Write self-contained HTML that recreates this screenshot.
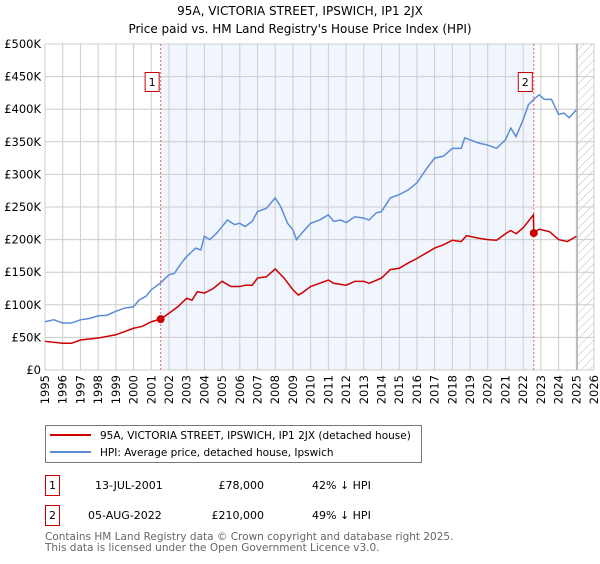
<!DOCTYPE html>
<html><head><meta charset="utf-8"><style>
body{margin:0;width:600px;height:560px;background:#fff;font-family:"DejaVu Sans","Liberation Sans",sans-serif;overflow:hidden}
svg text{font-family:"DejaVu Sans","Liberation Sans",sans-serif}
</style></head><body>
<svg id="chart" width="600" height="560" xmlns="http://www.w3.org/2000/svg">
<defs><pattern id="hatch" width="6" height="6" patternUnits="userSpaceOnUse" patternTransform="rotate(45)"><line x1="0" y1="0" x2="0" y2="6" stroke="#bbb" stroke-width="1"/></pattern></defs>
<text x="300" y="15" text-anchor="middle" font-size="12">95A, VICTORIA STREET, IPSWICH, IP1 2JX</text>
<text x="300" y="33" text-anchor="middle" font-size="12">Price paid vs. HM Land Registry's House Price Index (HPI)</text>
<g id="grid"></g><g id="marks"></g>
<rect x="45.5" y="425.5" width="376" height="37" fill="#fff" stroke="#777"/>
<line x1="50" y1="435" x2="91" y2="435" stroke="#cc0000" stroke-width="2"/>
<text x="100" y="439" font-size="10.5">95A, VICTORIA STREET, IPSWICH, IP1 2JX (detached house)</text>
<line x1="50" y1="452" x2="91" y2="452" stroke="#5b8dd6" stroke-width="2"/>
<text x="100" y="456" font-size="10.5">HPI: Average price, detached house, Ipswich</text>
<g font-size="11">
<rect x="45.5" y="475.5" width="14" height="20" fill="#fff" stroke="#cc0000"/><text x="52.5" y="489" text-anchor="middle">1</text>
<text x="95" y="489">13-JUL-2001</text><text x="264" y="489" text-anchor="end">£78,000</text><text x="312" y="489">42% ↓ HPI</text></g>
<g font-size="11">
<rect x="45.5" y="505.5" width="14" height="20" fill="#fff" stroke="#cc0000"/><text x="52.5" y="519" text-anchor="middle">2</text>
<text x="88" y="519">05-AUG-2022</text><text x="264" y="519" text-anchor="end">£210,000</text><text x="312" y="519">49% ↓ HPI</text></g>
<text x="45" y="540" font-size="10.5" fill="#666">Contains HM Land Registry data © Crown copyright and database right 2025.</text>
<text x="45" y="551" font-size="10.5" fill="#666">This data is licensed under the Open Government Licence v3.0.</text>
</svg>
<script>
const hpiYears=[1995,1995.5,1996,1996.5,1997,1997.5,1998,1998.5,1999,1999.5,2000,2000.3,2000.7,2001,2001.5,2002,2002.3,2002.7,2003,2003.5,2003.8,2004,2004.3,2004.7,2005,2005.3,2005.7,2006,2006.3,2006.7,2007,2007.5,2008,2008.3,2008.7,2009,2009.2,2009.5,2010,2010.5,2011,2011.3,2011.7,2012,2012.5,2013,2013.3,2013.7,2014,2014.5,2015,2015.5,2016,2016.5,2017,2017.5,2018,2018.5,2018.7,2019,2019.5,2020,2020.5,2021,2021.3,2021.6,2022,2022.3,2022.6,2022.9,2023.2,2023.6,2024,2024.3,2024.6,2025];
const hpiValues=[74,77,72,72,77,79,83,84,90,95,97,107,113,123,133,146,148,164,174,187,184,205,200,210,220,230,223,225,220,228,243,248,264,251,225,215,200,210,225,230,238,228,230,226,235,233,230,241,243,264,269,276,287,307,325,328,340,340,356,353,348,345,340,353,371,358,384,407,415,422,415,415,392,394,387,399];
const priceYears=[1995,1996,1996.5,1997,1998,1999,2000,2000.5,2001,2001.53,2002,2002.5,2003,2003.3,2003.6,2004,2004.5,2005,2005.5,2006,2006.3,2006.7,2007,2007.5,2008,2008.5,2009,2009.3,2009.5,2010,2010.5,2011,2011.3,2012,2012.5,2013,2013.3,2014,2014.5,2015,2015.5,2016,2016.5,2017,2017.5,2018,2018.5,2018.8,2019.5,2020,2020.5,2021,2021.3,2021.6,2022,2022.58,2022.6,2022.9,2023.5,2024,2024.5,2025];
const priceValues=[44,41,41,46,49,54,64,67,74,78,87,97,110,107,120,118,125,136,128,128,130,130,141,143,155,141,123,115,118,128,133,138,133,130,136,136,133,141,154,156,164,171,179,187,192,199,197,206,202,200,199,209,214,209,218,238,210,216,212,200,197,205];
const saleYears=[2001.53,2022.6];
const saleValues=[78,210];
const saleLabels=["1","2"];
const yTicks=[0,50,100,150,200,250,300,350,400,450,500];
const yTickLabels=["£0","£50K","£100K","£150K","£200K","£250K","£300K","£350K","£400K","£450K","£500K"];
const xTicks=[1995,1996,1997,1998,1999,2000,2001,2002,2003,2004,2005,2006,2007,2008,2009,2010,2011,2012,2013,2014,2015,2016,2017,2018,2019,2020,2021,2022,2023,2024,2025,2026];
const NS="http://www.w3.org/2000/svg";
const X0=45,X1=594,Y0=370,Y1=44;
const xs=y=>X0+(y-1995)/(2026-1995)*(X1-X0);
const ys=v=>Y0-(v/500)*(Y0-Y1);
function mk(t,a,p){const e=document.createElementNS(NS,t);for(const k in a)e.setAttribute(k,a[k]);p.appendChild(e);return e;}
const grid=document.getElementById('grid'),marks=document.getElementById('marks');
const bg=mk('rect',{x:X0,y:Y1,width:X1-X0,height:Y0-Y1,fill:'#fff'},grid);


const sh=mk('rect',{x:xs(saleYears[0]),y:Y1,width:xs(saleYears[1])-xs(saleYears[0]),height:Y0-Y1,fill:'#eef3fc',opacity:0.8},grid);


const ht=mk('rect',{x:xs(2025.05),y:Y1,width:X1-xs(2025.05),height:Y0-Y1,fill:'url(#hatch)'},grid);


yTicks.forEach((v,i)=>{mk('line',{x1:X0,x2:X1,y1:ys(v),y2:ys(v),stroke:'#ccc'},grid);
const t=mk('text',{x:X0-4,y:ys(v)+4,'text-anchor':'end','font-size':'11.5'},grid);t.textContent=yTickLabels[i];

});
xTicks.forEach(y=>{mk('line',{x1:xs(y),x2:xs(y),y1:Y1,y2:Y0,stroke:'#ccc'},grid);
const t=mk('text',{x:0,y:0,'text-anchor':'end','font-size':'11.5',transform:`translate(${xs(y)+4},${Y0+5}) rotate(-90)`},grid);t.textContent=y;

});
mk('line',{x1:xs(2025.05),x2:xs(2025.05),y1:Y1,y2:Y0,stroke:'#999'},grid);
saleYears.forEach((y,i)=>{mk('line',{x1:xs(y),x2:xs(y),y1:Y1,y2:Y0,stroke:'#e66','stroke-dasharray':'2,2'},marks);});
const hp=mk('polyline',{points:hpiYears.map((y,i)=>xs(y)+','+ys(hpiValues[i])).join(' '),fill:'none',stroke:'#5b8dd6','stroke-width':1.5},marks);


const pp=mk('polyline',{points:priceYears.map((y,i)=>xs(y)+','+ys(priceValues[i])).join(' '),fill:'none',stroke:'#cc0000','stroke-width':1.5},marks);


saleYears.forEach((y,i)=>{const c=mk('circle',{cx:xs(y),cy:ys(saleValues[i]),r:4,fill:'#cc0000'},marks);


const g=mk('g',{},marks);


mk('rect',{x:xs(y)-15.5,y:72.5,width:14,height:19,fill:'#fff',stroke:'#cc0000'},g);
const t=mk('text',{x:xs(y)-8.5,y:86,'text-anchor':'middle','font-size':'11'},g);t.textContent=saleLabels[i];});
</script>
</body></html>
